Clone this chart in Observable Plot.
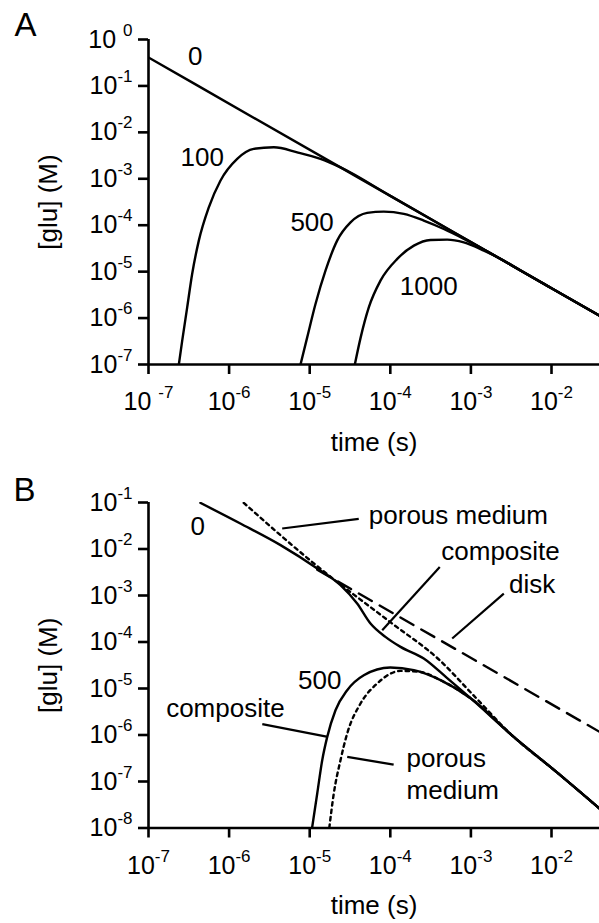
<!DOCTYPE html>
<html><head><meta charset="utf-8">
<script src="https://cdn.jsdelivr.net/npm/d3@7"></script>
<script src="https://cdn.jsdelivr.net/npm/@observablehq/plot@0.6"></script>
<style>
html,body{margin:0;padding:0;background:#fff;}
#chart{width:599px;}
#chart svg{display:block;}
</style></head><body><div id="chart"></div>
<script>
// ---------- shared axis data ----------
const xDomain = [1e-7, 0.0394];
const xTicks = [1e-7, 1e-6, 1e-5, 1e-4, 1e-3, 1e-2];
const yTicksA = [1, 1e-1, 1e-2, 1e-3, 1e-4, 1e-5, 1e-6, 1e-7];
const yTicksB = [1e-1, 1e-2, 1e-3, 1e-4, 1e-5, 1e-6, 1e-7, 1e-8];
const yDomainA = [1e-7, 1];
const yDomainB = [1e-8, 1e-1];

// ---------- Panel A: time (s) vs [glu] (M) ----------
const tA0 = [1e-7, 2.41e-5, 1e-4, 1e-3, 1e-2, 0.0394];
const cA0 = [0.41, 1.76e-3, 4.28e-4, 4.34e-5, 4.4e-6, 1.13e-6];
const tA100 = [2.38e-7, 2.62e-7, 3.02e-7, 3.48e-7, 4.21e-7, 5.6e-7, 7.8e-7, 1.26e-6, 2.02e-6, 3.59e-6, 7.0e-6, 1.36e-5, 2.41e-5, 1e-4, 1e-3, 1e-2, 0.0394];
const cA100 = [1e-7, 3.26e-7, 1.7e-6, 8.9e-6, 4.66e-5, 2.43e-4, 9.1e-4, 2.69e-3, 4.41e-3, 4.77e-3, 3.72e-3, 2.69e-3, 1.76e-3, 4.28e-4, 4.34e-5, 4.4e-6, 1.13e-6];
const tA500 = [7.69e-6, 9.31e-6, 1.18e-5, 1.57e-5, 2.19e-5, 3.21e-5, 5.16e-5, 8.3e-5, 1.47e-4, 2.6e-4, 4.61e-4, 8.2e-4, 1.59e-3, 1e-2, 0.0394];
const cA500 = [1e-7, 3.84e-7, 2.01e-6, 1.05e-5, 4.66e-5, 1.15e-4, 1.84e-4, 1.96e-4, 1.75e-4, 1.26e-4, 8.3e-5, 5.07e-5, 2.73e-5, 4.4e-6, 1.13e-6];
const tA1000 = [3.63e-5, 4.29e-5, 5.41e-5, 7.55e-5, 1.22e-4, 1.96e-4, 3.15e-4, 5.08e-4, 8.17e-4, 1.45e-3, 2.56e-3, 4.12e-3, 1e-2, 0.0394];
const cA1000 = [1e-7, 3.84e-7, 1.7e-6, 6.4e-6, 1.88e-5, 3.63e-5, 4.82e-5, 4.9e-5, 4.28e-5, 2.84e-5, 1.73e-5, 1.06e-5, 4.4e-6, 1.13e-6];
const labelTextA = ["0", "100", "500", "1000"];
const labelTA = [3.8e-7, 4.64e-7, 1.07e-5, 3.0e-4];
const labelCA = [0.43, 2.9e-3, 1.16e-4, 4.75e-6];

// ---------- Panel B ----------
const tBcomp0 = [4.41e-7, 1.38e-6, 4.35e-6, 1.24e-5, 2.41e-5, 3.88e-5, 5.68e-5, 8.7e-5, 1.34e-4, 2.6e-4, 5.08e-4, 9.9e-4, 3.4e-3, 1.18e-2, 0.0394];
const cBcomp0 = [9.8e-2, 3.53e-2, 1.21e-2, 3.81e-3, 1.67e-3, 6.73e-4, 2.5e-4, 1.29e-4, 7.85e-5, 4.42e-5, 1.67e-5, 6.18e-6, 9.1e-7, 1.55e-7, 2.62e-8];
const tBdisk = [1.24e-5, 0.0394];
const cBdisk = [3.6e-3, 1.17e-6];
const tBpor0 = [1.52e-6, 1.24e-5, 1.0e-4, 4.2e-4, 9.9e-4, 3.4e-3, 1.18e-2, 0.0394];
const cBpor0 = [9.8e-2, 4.27e-3, 2.67e-4, 3.9e-5, 8.3e-6, 9.1e-7, 1.55e-7, 2.62e-8];
const tBcomp500 = [1.07e-5, 1.24e-5, 1.43e-5, 1.65e-5, 2.09e-5, 2.92e-5, 4.69e-5, 1.0e-4, 1.96e-4, 4.2e-4, 9.9e-4, 3.4e-3, 1.18e-2, 0.0394];
const cBcomp500 = [1e-8, 5.52e-8, 2.87e-7, 9.1e-7, 3.41e-6, 9.2e-6, 1.93e-5, 2.83e-5, 2.48e-5, 1.51e-5, 6.18e-6, 9.1e-7, 1.55e-7, 2.62e-8];
const tBpor500 = [1.75e-5, 1.99e-5, 2.41e-5, 2.92e-5, 4.27e-5, 6.87e-5, 1.34e-4, 2.37e-4, 4.2e-4, 9.9e-4, 3.4e-3, 1.18e-2, 0.0394];
const cBpor500 = [1e-8, 5.52e-8, 2.87e-7, 1.08e-6, 4.75e-6, 1.28e-5, 2.39e-5, 2.27e-5, 1.51e-5, 6.18e-6, 9.1e-7, 1.55e-7, 2.62e-8];
// centered labels
const labelTextB = ["0", "composite", "disk", "500", "composite"];
const labelTB = [4.09e-7, 2.33e-3, 5.76e-3, 1.33e-5, 9.0e-7];
const labelCB = [2.98e-2, 8.67e-3, 1.67e-3, 1.51e-5, 3.72e-6];
// left-aligned labels
const labelTextBs = ["porous medium", "porous", "medium"];
const labelTBs = [5.41e-5, 1.59e-4, 1.59e-4];
const labelCBs = [5.33e-2, 3.13e-7, 6.5e-8];
// leader lines
const leadT1 = [4.56e-6, 7.94e-5, 5.86e-4, 2.58e-6, 2.92e-5];
const leadC1 = [2.76e-2, 1.79e-4, 1.19e-4, 1.71e-6, 3.38e-7];
const leadT2 = [4.06e-5, 4.11e-4, 2.56e-3, 1.68e-5, 1.10e-4];
const leadC2 = [4.44e-2, 4.12e-3, 1.10e-3, 9.1e-7, 2.30e-7];

// ---------- rendering ----------
const FONT = '"Liberation Sans", Arial, Helvetica, sans-serif';
const zip = (t, c) => t.map((d, i) => ({t: d, c: c[i]}));
const lab = (txt, t, c) => txt.map((d, i) => ({text: d, t: t[i], c: c[i]}));

function panel(o) {
  const fmt = spaced => d => {
    const e = Math.round(Math.log10(d));
    return (spaced.includes(e) ? "10 ^" : "10^") + e;
  };
  const T = {fill: "black", textAnchor: "middle", lineAnchor: "middle"};
  const marks = [
    Plot.ruleX([xDomain[0]], {stroke: "black", strokeWidth: 2.6}),
    Plot.ruleY([o.yDomain[0]], {stroke: "black", strokeWidth: 2.6}),
    Plot.axisX({ticks: xTicks, tickSize: 10, tickPadding: 18, tickFormat: fmt(o.spacedX), strokeWidth: 2.6, fontSize: 25, label: null}),
    Plot.axisY({ticks: o.yTicks, tickSize: 10, tickPadding: 6, tickFormat: fmt(o.spacedY), strokeWidth: 2.6, fontSize: 25, label: null}),
    ...o.lines.map(l => Plot.line(zip(l[0], l[1]), {x: "t", y: "c", stroke: "black", strokeWidth: 2.4, strokeDasharray: l[2], curve: "monotone-x", clip: true})),
    Plot.text(o.labels, {x: "t", y: "c", text: "text", fontSize: 26, ...T}),
    Plot.text(["[glu] (M)"], {frameAnchor: "left", rotate: -90, dx: -100, fontSize: 26, ...T}),
    Plot.text(["time (s)"], {frameAnchor: "bottom", dy: 78, fontSize: 26, ...T}),
    Plot.text([o.letter], {frameAnchor: "top-left", dx: o.letterDx, dy: o.letterDy, fontSize: 33, ...T})
  ];
  if (o.labelsStart) marks.push(Plot.text(o.labelsStart, {x: "t", y: "c", text: "text", fontSize: 26, ...T, textAnchor: "start"}));
  if (o.leaders) marks.push(Plot.link(o.leaders, {x1: "t1", y1: "c1", x2: "t2", y2: "c2", stroke: "black", strokeWidth: 2.2}));
  const svg = Plot.plot({
    width: 599, height: o.height,
    marginLeft: 148, marginRight: 0, marginTop: o.marginTop, marginBottom: o.marginBottom,
    style: {fontFamily: FONT, fontSize: "25px", background: "white", color: "black"},
    x: {type: "log", domain: xDomain},
    y: {type: "log", domain: o.yDomain},
    marks
  });
  const ns = "http://www.w3.org/2000/svg";
  svg.querySelectorAll("text").forEach(t => {
    const m = t.textContent.match(/^(10 ?)\^(-?\d+)$/);
    if (!m) return;
    while (t.firstChild) t.removeChild(t.firstChild);
    const a = document.createElementNS(ns, "tspan"); a.textContent = m[1];
    const b = document.createElementNS(ns, "tspan"); b.textContent = m[2];
    b.setAttribute("dy", "-12"); b.setAttribute("font-size", "17");
    t.append(a, b);
  });
  return svg;
}

const root = document.getElementById("chart");
root.append(panel({
  letter: "A", letterDx: -123, letterDy: -14,
  height: 464, marginTop: 39, marginBottom: 100,
  yDomain: yDomainA, yTicks: yTicksA, spacedY: [0], spacedX: [-7],
  lines: [[tA0, cA0], [tA100, cA100], [tA500, cA500], [tA1000, cA1000]],
  labels: lab(labelTextA, labelTA, labelCA)
}));
root.append(panel({
  letter: "B", letterDx: -124, letterDy: -12,
  height: 459, marginTop: 38, marginBottom: 95.5,
  yDomain: yDomainB, yTicks: yTicksB, spacedY: [], spacedX: [],
  lines: [
    [tBdisk, cBdisk, "15,9"],
    [tBpor0, cBpor0, "3.5,4"],
    [tBpor500, cBpor500, "3.5,4"],
    [tBcomp0, cBcomp0],
    [tBcomp500, cBcomp500]
  ],
  labels: lab(labelTextB, labelTB, labelCB),
  labelsStart: lab(labelTextBs, labelTBs, labelCBs),
  leaders: leadT1.map((d, i) => ({t1: d, c1: leadC1[i], t2: leadT2[i], c2: leadC2[i]}))
}));
</script></body></html>
